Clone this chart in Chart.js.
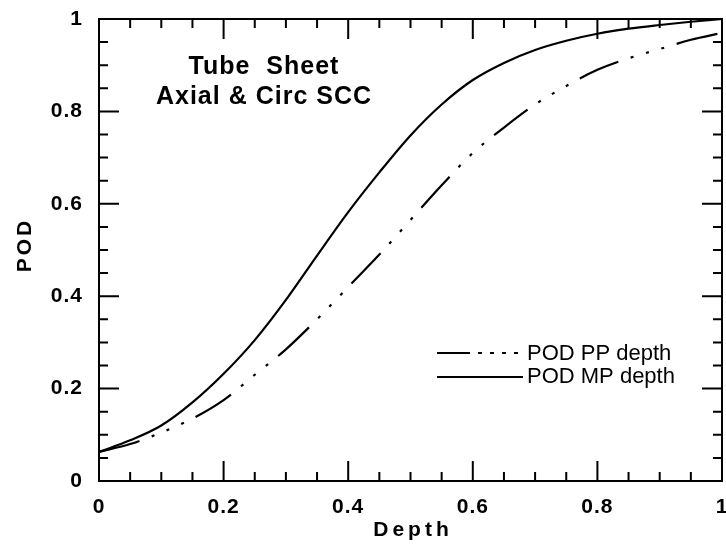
<!DOCTYPE html>
<html>
<head>
<meta charset="utf-8">
<script src="https://cdn.jsdelivr.net/npm/chart.js@4.4.1/dist/chart.umd.min.js"></script>
<style>
  html, body { margin: 0; padding: 0; background: #fff; }
  #wrap { width: 726px; height: 552px; }
</style>
</head>
<body>
<div id="wrap"><canvas id="podChart" width="726" height="552"></canvas></div>
<script>
// values
const depth = [0, 0.05, 0.1, 0.15, 0.2, 0.25, 0.3, 0.35, 0.4, 0.45, 0.5,
               0.55, 0.6, 0.65, 0.7, 0.75, 0.8, 0.85, 0.9, 0.95, 1];
const podPP = [0.063, 0.08, 0.105, 0.135, 0.175, 0.23, 0.285, 0.35, 0.42, 0.49, 0.565,
               0.64, 0.71, 0.765, 0.815, 0.855, 0.89, 0.915, 0.935, 0.955, 0.97];
const podMP = [0.063, 0.088, 0.12, 0.17, 0.232, 0.305, 0.392, 0.488, 0.582, 0.668, 0.748,
               0.815, 0.868, 0.905, 0.933, 0.953, 0.968, 0.979, 0.987, 0.994, 1.0];
const seriesNames = ['POD PP depth', 'POD MP depth'];
const titleLines = ['Tube  Sheet', 'Axial & Circ SCC'];
const xTitle = 'Depth';
const yTitle = 'POD';

const FONT = '"Liberation Sans", Arial, Helvetica, sans-serif';
const ppDash = [42, 13, 3, 13, 3, 13, 3, 13];

const toPoints = (ys) => depth.map((x, i) => ({ x: x, y: ys[i] }));
const fmt = (v) => String(Number(v.toFixed(1)));

// frame, inward ticks, labels, legend
const decorPlugin = {
    id: 'decor',
    beforeDraw(chart) {
        chart.ctx.letterSpacing = '1px';
    },
    afterDraw(chart) {
        const ctx = chart.ctx;
        const a = chart.chartArea;
        const xs = chart.scales.x;
        const ys = chart.scales.y;
        ctx.save();
        ctx.strokeStyle = '#000';
        ctx.lineWidth = 2;
        ctx.setLineDash([]);
        ctx.strokeRect(a.left, a.top, a.right - a.left, a.bottom - a.top);

        // ticks every 0.05, long ones every 0.2
        ctx.beginPath();
        for (let i = 0; i <= 20; i++) {
            const v = i * 0.05;
            const len = (i % 4 === 0) ? 20 : 9;
            const px = xs.getPixelForValue(v);
            const py = ys.getPixelForValue(v);
            ctx.moveTo(px, a.bottom); ctx.lineTo(px, a.bottom - len);
            ctx.moveTo(px, a.top); ctx.lineTo(px, a.top + len);
            ctx.moveTo(a.left, py); ctx.lineTo(a.left + len, py);
            ctx.moveTo(a.right, py); ctx.lineTo(a.right - len, py);
        }
        ctx.stroke();

        // title text
        ctx.fillStyle = '#000';
        ctx.textAlign = 'center';
        ctx.textBaseline = 'middle';
        ctx.font = 'bold 25px ' + FONT;
        ctx.letterSpacing = '1px';
        ctx.fillText(titleLines[0], 264, 67);
        ctx.fillText(titleLines[1], 264, 97);

        // axis titles
        ctx.font = 'bold 21px ' + FONT;
        ctx.letterSpacing = '4px';
        ctx.fillText(xTitle, 413, 530);
        ctx.save();
        ctx.translate(25, 245);
        ctx.rotate(-Math.PI / 2);
        ctx.letterSpacing = '3px';
        ctx.fillText(yTitle, 0, 0);
        ctx.restore();

        // legend
        ctx.letterSpacing = '0px';
        ctx.font = '22px ' + FONT;
        ctx.textAlign = 'left';
        ctx.fillText(seriesNames[0], 527, 354);
        ctx.fillText(seriesNames[1], 527, 377);
        ctx.lineWidth = 2;
        ctx.beginPath();
        ctx.setLineDash([33, 8, 4, 8, 4, 8, 4, 8, 4, 8]);
        ctx.moveTo(437, 353); ctx.lineTo(523, 353);
        ctx.stroke();
        ctx.beginPath();
        ctx.setLineDash([]);
        ctx.moveTo(437, 377); ctx.lineTo(523, 377);
        ctx.stroke();
        ctx.restore();
    }
};

const chart = new Chart(document.getElementById('podChart'), {
    type: 'line',
    data: {
        datasets: [
            {
                label: seriesNames[0],
                data: toPoints(podPP),
                borderColor: '#000',
                borderWidth: 2.2,
                borderDash: ppDash,
                pointRadius: 0,
                cubicInterpolationMode: 'monotone',
                fill: false
            },
            {
                label: seriesNames[1],
                data: toPoints(podMP),
                borderColor: '#000',
                borderWidth: 2.2,
                pointRadius: 0,
                cubicInterpolationMode: 'monotone',
                fill: false
            }
        ]
    },
    options: {
        responsive: false,
        animation: false,
        layout: { padding: { top: 19, right: 4, left: 0, bottom: 0 } },
        plugins: {
            legend: { display: false },
            tooltip: { enabled: false }
        },
        scales: {
            x: {
                type: 'linear',
                min: 0,
                max: 1,
                grid: { display: false, drawTicks: false },
                border: { display: false },
                ticks: {
                    stepSize: 0.2,
                    padding: 14,
                    color: '#000',
                    maxRotation: 0,
                    callback: fmt,
                    font: { family: FONT, size: 21, weight: 'bold' }
                },
                afterFit(scale) {
                    scale.height = 71;
                    scale.paddingLeft = 0;
                    scale.paddingRight = 0;
                }
            },
            y: {
                min: 0,
                max: 1,
                grid: { display: false, drawTicks: false },
                border: { display: false },
                ticks: {
                    stepSize: 0.2,
                    padding: 16,
                    color: '#000',
                    callback: fmt,
                    font: { family: FONT, size: 21, weight: 'bold' }
                },
                afterFit(scale) {
                    scale.width = 99;
                    scale.paddingTop = 0;
                    scale.paddingBottom = 0;
                }
            }
        }
    },
    plugins: [decorPlugin]
});
</script>
</body>
</html>
